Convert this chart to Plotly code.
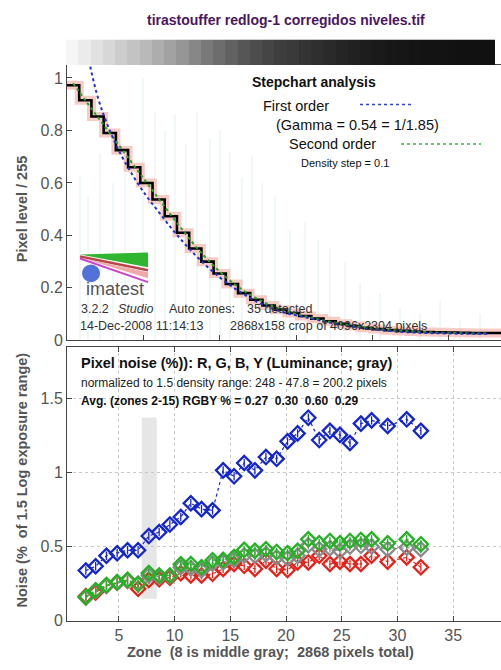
import plotly.graph_objects as go

W, H = 501, 670
def px(x): return x / W
def py(y): return 1 - y / H

FONT = "Liberation Sans, Arial, sans-serif"
NB = "\u00a0"

# ---------------- data: top panel (stepchart, pixel units along strip) ----------------
zone_width = 80
zone_levels = [0.972, 0.915, 0.853, 0.79, 0.725, 0.66, 0.60, 0.537, 0.473, 0.41,
               0.35, 0.30, 0.255, 0.215, 0.18, 0.155, 0.133, 0.117, 0.104, 0.093,
               0.083, 0.073, 0.063, 0.055, 0.048, 0.043, 0.039, 0.036, 0.034, 0.032,
               0.031, 0.030, 0.029, 0.028, 0.028]
first_order = [1.45, 1.14, 0.93, 0.80, 0.70, 0.62, 0.55, 0.49, 0.43, 0.375,
               0.325, 0.28, 0.24, 0.205, 0.175, 0.148, 0.127, 0.11, 0.098, 0.088,
               0.078, 0.068, 0.059, 0.051, 0.045, 0.04, 0.036, 0.032, 0.03, 0.028,
               0.027, 0.026, 0.025, 0.025, 0.025]
second_order = [0.98, 0.915, 0.852, 0.79, 0.728, 0.665, 0.603, 0.54, 0.478, 0.418,
                0.36, 0.308, 0.262, 0.222, 0.188, 0.16, 0.137, 0.119, 0.104, 0.092,
                0.081, 0.071, 0.062, 0.055, 0.048, 0.043, 0.039, 0.036, 0.033, 0.031,
                0.029, 0.028, 0.027, 0.026, 0.026]
spike_x = [85, 138, 216, 301, 380, 498, 576, 642, 707, 779, 851, 936, 1002, 1067, 1146,
           1211, 1277, 1362, 1460, 1559, 1644, 1722, 1821, 1919, 2050, 2181, 2312, 2443,
           2574, 2705]
spike_h = [0.63, 0.55, 0.71, 0.6, 0.65, 1.0, 0.87, 0.8, 0.86, 0.75, 0.87, 0.77, 0.8, 0.72,
           0.62, 0.7, 0.6, 0.55, 0.42, 0.45, 0.38, 0.35, 0.3, 0.22, 0.18, 0.12, 0.1, 0.15,
           0.08, 0.1]
strip_width_px = 2842

# ---------------- data: bottom panel (noise vs zone) ----------------
zones = [2.04, 2.92, 3.89, 4.85, 5.78, 6.73, 7.69, 8.62, 9.58, 10.56, 11.46, 12.42, 13.41,
         14.36, 15.34, 16.25, 17.21, 18.2, 19.16, 20.14, 21.04, 22.0, 22.98, 23.94, 24.84,
         25.74, 26.72, 27.68, 29.12, 30.83, 32.1]
noise_r = [0.165, 0.19, 0.235, 0.255, 0.27, 0.215, 0.275, 0.28, 0.29, 0.32, 0.305, 0.305,
           0.316, 0.349, 0.382, 0.37, 0.349, 0.404, 0.349, 0.342, 0.393, 0.393, 0.438,
           0.382, 0.398, 0.382, 0.382, 0.438, 0.398, 0.427, 0.36]
noise_g = [0.16, 0.205, 0.24, 0.26, 0.275, 0.245, 0.322, 0.305, 0.305, 0.38, 0.382, 0.36,
           0.408, 0.41, 0.43, 0.478, 0.471, 0.482, 0.464, 0.455, 0.471, 0.549, 0.522,
           0.538, 0.522, 0.538, 0.545, 0.549, 0.522, 0.549, 0.516]
noise_b = [0.338, 0.367, 0.438, 0.455, 0.475, 0.475, 0.571, 0.598, 0.649, 0.700, 0.793,
           0.753, 0.745, 1.015, 0.975, 1.065, 1.015, 1.105, 1.093, 1.211, 1.265, 1.371,
           1.22, 1.282, 1.255, 1.2, 1.331, 1.353, 1.315, 1.36, 1.282]
noise_y = [0.155, 0.2, 0.235, 0.255, 0.27, 0.25, 0.305, 0.295, 0.3, 0.36, 0.355, 0.34,
           0.385, 0.395, 0.41, 0.44, 0.438, 0.449, 0.427, 0.42, 0.438, 0.509, 0.482, 0.489,
           0.471, 0.5, 0.505, 0.5, 0.482, 0.493, 0.482]
mid_gray_band = [7.06, 8.41, 0.147, 1.373]

# derived positions
zone_centers = [zone_width * i + zone_width / 2 for i in range(len(zone_levels))]
step_x = [zone_width * i for i in range(len(zone_levels))] + [strip_width_px]
step_y = zone_levels + [zone_levels[-1]]

fig = go.Figure()

# faint background spikes
sx, sy = [], []
for x, h in zip(spike_x, spike_h):
    sx += [x, x, None]
    sy += [0, h, None]
fig.add_trace(go.Scatter(x=sx, y=sy, mode="lines", line=dict(color="#e6f3f2", width=1.2),
                         xaxis="x", yaxis="y", hoverinfo="skip", showlegend=False))
# pink noise band
fig.add_trace(go.Scatter(x=step_x, y=step_y, mode="lines", line=dict(color="rgba(242,160,150,0.55)", width=9, shape="hv"),
                         xaxis="x", yaxis="y", showlegend=False))
# black step curve
fig.add_trace(go.Scatter(x=step_x, y=step_y, mode="lines", line=dict(color="black", width=2.6, shape="hv"),
                         xaxis="x", yaxis="y", showlegend=False))
# second order fit
fig.add_trace(go.Scatter(x=zone_centers, y=second_order, mode="lines",
                         line=dict(color="#2aa52a", width=2, dash="dot", shape="spline"),
                         xaxis="x", yaxis="y", showlegend=False))
# first order fit
fig.add_trace(go.Scatter(x=zone_centers, y=first_order, mode="lines",
                         line=dict(color="#2233cc", width=2, dash="dot", shape="spline"),
                         xaxis="x", yaxis="y", showlegend=False))

# gradient strip
strip_scale = [[0, "#000000"], [0.05, "#1e1e1e"], [0.1, "#383838"], [0.2, "#5e5e5e"],
               [0.4, "#949494"], [0.6, "#b9b9b9"], [0.8, "#d9d9d9"], [1, "#f9f9f9"]]
fig.add_trace(go.Heatmap(x=zone_centers, y=[0], z=[zone_levels], zmin=0, zmax=1,
                         colorscale=strip_scale, showscale=False,
                         xaxis="x3", yaxis="y3", hoverinfo="skip"))

# noise series
series = [("R", noise_r, "#e3241c"), ("Y", noise_y, "#8a8a8a"), ("G", noise_g, "#26b026"), ("B", noise_b, "#1426cc")]
for name, vals, col in series:
    fig.add_trace(go.Scatter(x=zones, y=vals, mode="lines+markers", name=name,
                             line=dict(color=col, width=1.2, dash="dot"),
                             marker=dict(symbol="diamond-open", size=11, color=col, line=dict(width=2.3, color=col)),
                             xaxis="x2", yaxis="y2", showlegend=False))
    fig.add_trace(go.Scatter(x=zones, y=vals, mode="markers",
                             marker=dict(symbol="line-ns-open", size=6, color=col, line=dict(width=1.3, color=col)),
                             xaxis="x2", yaxis="y2", showlegend=False, hoverinfo="skip"))

axis_common = dict(showline=True, linecolor="#444", linewidth=1, ticks="inside", ticklen=5,
                   tickcolor="#444", tickfont=dict(family=FONT, size=16, color="#555"), zeroline=False)

shapes = [
    dict(type="rect", xref="x2", yref="y2", x0=mid_gray_band[0], x1=mid_gray_band[1],
         y0=mid_gray_band[2], y1=mid_gray_band[3], fillcolor="#e6e6e6", line=dict(width=0), layer="below"),
    # legend samples
    dict(type="line", xref="paper", yref="paper", x0=px(360), x1=px(412), y0=py(106), y1=py(106),
         line=dict(color="#3344cc", width=1.5, dash="dot")),
    dict(type="line", xref="paper", yref="paper", x0=px(401), x1=px(481), y0=py(146), y1=py(146),
         line=dict(color="#33bb33", width=1.5, dash="dot")),
    # imatest logo
    dict(type="path", xref="paper", yref="paper",
         path=f"M {px(80)},{py(258)} L {px(148)},{py(256)} L {px(148)},{py(271)} Z",
         fillcolor="#2fb52f", line=dict(width=0)),
    dict(type="line", xref="paper", yref="paper", x0=px(80), x1=px(148), y0=py(260), y1=py(274),
         line=dict(color="#b84848", width=2.5)),
    dict(type="path", xref="paper", yref="paper",
         path=f"M {px(80)},{py(261)} L {px(148)},{py(276)} L {px(148)},{py(282)} Z",
         fillcolor="#f0a8a8", line=dict(width=0)),
    dict(type="line", xref="paper", yref="paper", x0=px(80), x1=px(148), y0=py(262), y1=py(286),
         line=dict(color="#cc44cc", width=2)),
    dict(type="circle", xref="paper", yref="paper", x0=px(82), x1=px(100), y0=py(286), y1=py(268),
         fillcolor="#5272d8", line=dict(width=0)),
]

def ann(text, x, y, size=12, bold=False, italic=False, color="#222", xanchor="left", angle=0):
    t = text.replace("  ", NB + NB)
    if bold:
        t = f"<b>{t}</b>"
    if italic:
        t = f"<i>{t}</i>"
    return dict(text=t, x=px(x), y=py(y), xref="paper", yref="paper", xanchor=xanchor, yanchor="middle",
                showarrow=False, textangle=angle, font=dict(family=FONT, size=size, color=color))

annotations = [
    ann("tirastouffer redlog-1 corregidos niveles.tif", 286, 20, 14, True, color="#4b1660", xanchor="center"),
    ann("Stepchart analysis", 250, 83, 14, True, color="#111"),
    ann("First order", 261, 107, 14.5, color="#111"),
    ann("(Gamma = 0.54 = 1/1.85)", 274, 127, 14.5, color="#111"),
    ann("Second order", 287, 146, 14.5, color="#111"),
    ann("Density step = 0.1", 299, 165, 11, color="#111"),
    ann("imatest", 84, 293, 18, color="#555"),
    ann("3.2.2", 79, 313, 12.5, color="#333"),
    ann("Studio", 116, 313, 12.5, italic=True, color="#333"),
    ann("Auto zones:", 167, 313, 12.5, color="#333"),
    ann("35 detected", 245, 313, 12.5, color="#333"),
    ann("14-Dec-2008 11:14:13", 78, 330, 12.5, color="#333"),
    ann("2868x158 crop of 4096x2304 pixels", 228, 330, 12.5, color="#333"),
    ann("Pixel noise (%)): R, G, B, Y (Luminance; gray)", 79, 368, 14.5, True, color="#111"),
    ann("normalized to 1.5 density range: 248 - 47.8 = 200.2 pixels", 79, 388, 12, color="#222"),
    ann("Avg. (zones 2-15) RGBY % = 0.27  0.30  0.60  0.29", 79, 406, 12, True, color="#111"),
    ann("Pixel level / 255", 22, 212, 14.5, True, color="#555", xanchor="center", angle=-90),
    ann("Noise (%  of 1.5 Log exposure range)", 22, 487, 14.5, True, color="#555", xanchor="center", angle=-90),
    ann("Zone  (8 is middle gray;  2868 pixels total)", 270, 661, 14.5, True, color="#555", xanchor="center"),
]

fig.update_layout(
    width=W, height=H, margin=dict(l=0, r=0, t=0, b=0, pad=0),
    paper_bgcolor="white", plot_bgcolor="white", showlegend=False,
    xaxis=dict(domain=[px(67), 1], range=[0, strip_width_px], tickvals=[500, 1000, 1500, 2000, 2500],
               showticklabels=False, mirror=True, showgrid=False, anchor="y", **axis_common),
    yaxis=dict(domain=[py(345), py(66)], range=[0, 1.049], tickvals=[0, 0.2, 0.4, 0.6, 0.8, 1],
               showgrid=False, anchor="x", **axis_common),
    xaxis2=dict(domain=[px(67), 1], range=[0.35, 39.29], tickvals=[5, 10, 15, 20, 25, 30, 35],
                mirror="ticks", showgrid=True, gridcolor="#c8c8c8", griddash="dot", anchor="y2", **axis_common),
    yaxis2=dict(domain=[py(629), py(352)], range=[0, 1.847], tickvals=[0, 0.5, 1, 1.5],
                showgrid=True, gridcolor="#c8c8c8", griddash="dot", anchor="x2", **axis_common),
    xaxis3=dict(domain=[px(66), 1], range=[0, strip_width_px], visible=False, anchor="y3"),
    yaxis3=dict(domain=[py(66), py(40)], range=[-0.5, 0.5], visible=False, anchor="x3"),
    shapes=shapes, annotations=annotations,
)

fig.write_html("out.html")
